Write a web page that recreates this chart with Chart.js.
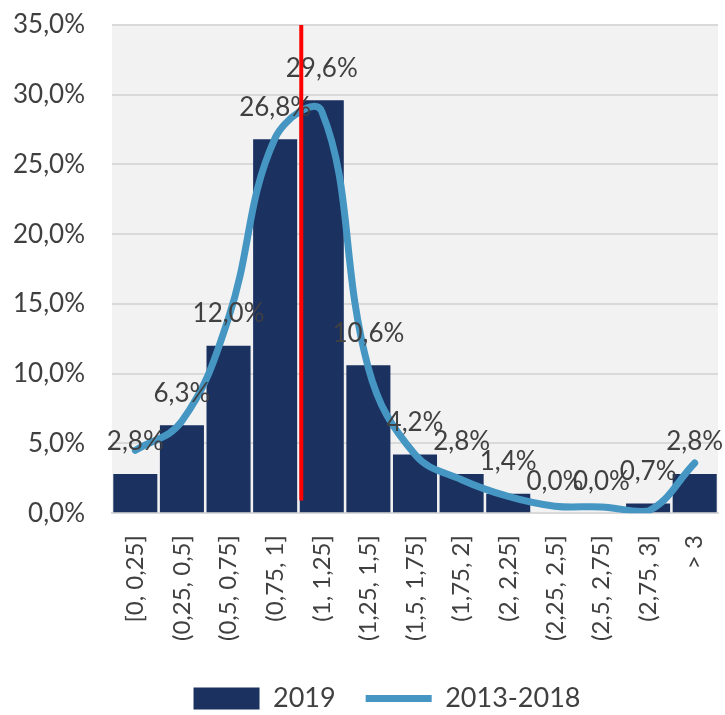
<!DOCTYPE html>
<html>
<head>
<meta charset="utf-8">
<script src="https://cdn.jsdelivr.net/npm/chart.js@4"></script>
<style>
  html, body { margin: 0; background: #fff; }
  #wrap { width: 725px; height: 715px; }
</style>
</head>
<body>
<div id="wrap"><canvas id="chart" width="725" height="715"></canvas></div>
<script>
// Ratio bins (x axis)
const categories = ['[0, 0,25]', '(0,25, 0,5]', '(0,5, 0,75]', '(0,75, 1]', '(1, 1,25]', '(1,25, 1,5]',
    '(1,5, 1,75]', '(1,75, 2]', '(2, 2,25]', '(2,25, 2,5]', '(2,5, 2,75]', '(2,75, 3]', '> 3'];

// Share per bin, in %
const share2019 = [2.8, 6.3, 12.0, 26.8, 29.6, 10.6, 4.2, 2.8, 1.4, 0.0, 0.0, 0.7, 2.8];
const share20132018 = [4.5, 6.6, 14.0, 26.9, 28.8, 10.4, 4.2, 2.4, 1.2, 0.5, 0.45, 0.15, 3.6];

// Y axis ticks
const yMin = 0;
const yMax = 35;
const yStep = 5;

// Red marker line (position in category units, from/to in %)
const markerAt = 3.56;
const markerFrom = 0.9;
const markerTo = 35;

const FONT = 'Lato, "Open Sans", sans-serif';
const TEXT = '#404040';

function pct(v) {
    return v.toFixed(1).replace('.', ',') + '%';
}

// Light grey plot background
const plotBackground = {
    id: 'plotBackground',
    beforeDraw(chart) {
        const { ctx, chartArea: a } = chart;
        ctx.save();
        ctx.fillStyle = '#f2f2f2';
        ctx.fillRect(a.left, a.top, a.right - a.left, a.bottom - a.top);
        ctx.restore();
    }
};

// Value labels above the 2019 bars
const barLabels = {
    id: 'barLabels',
    afterDatasetsDraw(chart) {
        const ctx = chart.ctx;
        const meta = chart.getDatasetMeta(0);
        ctx.save();
        ctx.font = '26px ' + FONT;
        ctx.fillStyle = TEXT;
        ctx.textAlign = 'center';
        ctx.textBaseline = 'middle';
        meta.data.forEach((bar, i) => {
            ctx.fillText(pct(share2019[i]), bar.x, bar.y - 32);
        });
        ctx.restore();
    }
};

// Red vertical marker
const marker = {
    id: 'marker',
    afterDraw(chart) {
        const { ctx, scales } = chart;
        const x = scales.x.getPixelForValue(markerAt);
        ctx.save();
        ctx.strokeStyle = '#ff0000';
        ctx.lineWidth = 4;
        ctx.beginPath();
        ctx.moveTo(x, scales.y.getPixelForValue(markerTo));
        ctx.lineTo(x, scales.y.getPixelForValue(markerFrom));
        ctx.stroke();
        ctx.restore();
    }
};

// Legend sits a little right of centre in the original
const legendShift = {
    id: 'legendShift',
    afterLayout(chart) {
        chart.legend.left += 22;
        chart.legend.right += 22;
    }
};

new Chart(document.getElementById('chart'), {
    data: {
        labels: categories,
        datasets: [{
            type: 'bar',
            label: '2019',
            data: share2019,
            backgroundColor: '#1b3160',
            barPercentage: 0.945,
            categoryPercentage: 1,
            pointStyle: 'rect',
            order: 2
        }, {
            type: 'line',
            label: '2013-2018',
            data: share20132018,
            borderColor: '#4596c3',
            backgroundColor: '#4596c3',
            borderWidth: 7,
            borderCapStyle: 'round',
            tension: 0.4,
            pointRadius: 0,
            pointStyle: 'line',
            order: 1
        }]
    },
    options: {
        responsive: false,
        animation: false,
        layout: { padding: { top: 0, left: 12, right: 7, bottom: -7 } },
        plugins: {
            legend: {
                position: 'bottom',
                labels: {
                    usePointStyle: true,
                    pointStyleWidth: 66,
                    boxHeight: 22,
                    padding: 30,
                    color: TEXT,
                    font: { family: FONT, size: 27 },
                    sort: (a, b) => a.datasetIndex - b.datasetIndex
                }
            },
            tooltip: { enabled: false }
        },
        scales: {
            x: {
                afterFit: scale => { scale.paddingLeft = 0; scale.paddingRight = 0; },
                grid: { display: false },
                border: { color: '#d9d9d9', width: 2 },
                ticks: {
                    color: TEXT,
                    font: { family: FONT, size: 24 },
                    minRotation: 90,
                    maxRotation: 90,
                    autoSkip: false,
                    padding: 14
                }
            },
            y: {
                min: yMin,
                max: yMax,
                afterFit: scale => { scale.width = 100; scale.paddingTop = 25; },
                grid: { color: '#d9d9d9', lineWidth: 2, drawTicks: false },
                border: { display: false },
                ticks: {
                    stepSize: yStep,
                    color: TEXT,
                    font: { family: FONT, size: 26 },
                    padding: 27,
                    callback: v => pct(v)
                }
            }
        }
    },
    plugins: [plotBackground, barLabels, marker, legendShift]
});
</script>
</body>
</html>
